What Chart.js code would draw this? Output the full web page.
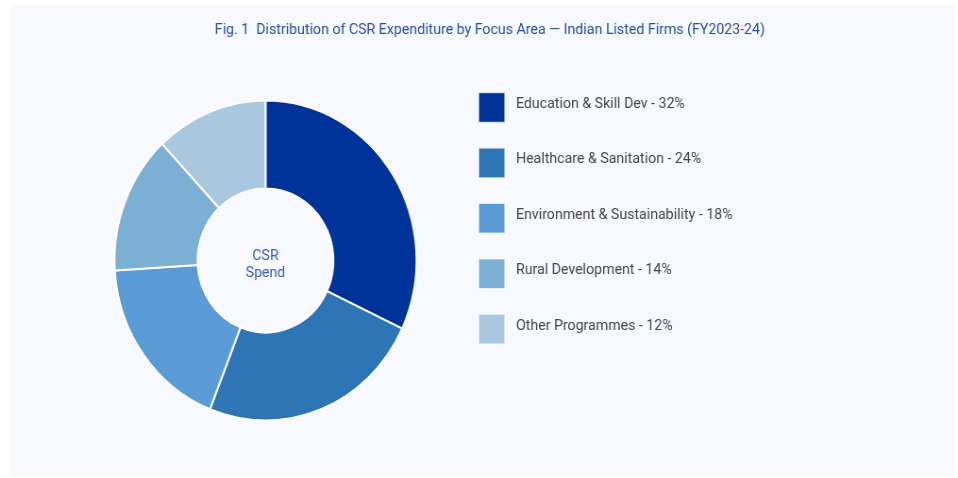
<!DOCTYPE html>
<html>
<head>
<meta charset="utf-8">
<script src="https://cdn.jsdelivr.net/npm/chart.js@4.4.1/dist/chart.umd.min.js"></script>
<style>
  html, body { margin: 0; padding: 0; background: #ffffff; overflow: hidden; }
  #panel { position: absolute; left: 11px; top: 5px; width: 944px; height: 471px; background: #f7f9fe; }
  #c { position: absolute; left: 0; top: 0; transform: scaleX(0.9438); transform-origin: 0 0; }
</style>
</head>
<body>
<div id="panel"></div>
<canvas id="c" width="1015" height="478"></canvas>
<script>
const titleText = 'Fig. 1  Distribution of CSR Expenditure by Focus Area — Indian Listed Firms (FY2023-24)';
const categories = ['Education & Skill Dev', 'Healthcare & Sanitation', 'Environment & Sustainability', 'Rural Development', 'Other Programmes'];
const shares = [32, 24, 18, 14, 12];
const colors = ['#003399', '#2e75b6', '#5b9bd5', '#7bafd4', '#a9c7df'];
const centerLines = ['CSR', 'Spend'];

const FONT = 'Roboto, "Liberation Sans", sans-serif';

const titlePlugin = {
  id: 'titleText',
  afterDraw(chart) {
    const ctx = chart.ctx;
    ctx.save();
    ctx.fillStyle = '#2a4d9f';
    ctx.font = '15px ' + FONT;
    ctx.textAlign = 'center';
    ctx.textBaseline = 'alphabetic';
    ctx.fillText(titleText, 519, 34);
    ctx.restore();
  }
};

const centerText = {
  id: 'centerText',
  afterDatasetsDraw(chart) {
    const meta = chart.getDatasetMeta(0);
    if (!meta.data.length) return;
    const {x, y} = meta.data[0];
    const ctx = chart.ctx;
    ctx.save();
    ctx.fillStyle = '#3a5cae';
    ctx.font = '15px ' + FONT;
    ctx.textAlign = 'center';
    ctx.textBaseline = 'alphabetic';
    ctx.fillText(centerLines[0], x, y - 0.5);
    ctx.fillText(centerLines[1], x, y + 16.5);
    ctx.restore();
  }
};

const sideLegend = {
  id: 'sideLegend',
  afterDraw(chart) {
    const ctx = chart.ctx;
    const x0 = 507, y0 = 92.5, step = 55.4, bw = 28, bh = 30;
    ctx.save();
    chart.data.labels.forEach((lab, i) => {
      const y = y0 + i * step;
      ctx.beginPath();
      ctx.rect(x0, y, bw, bh);
      ctx.fillStyle = colors[i];
      ctx.fill();
      ctx.lineWidth = 1.5;
      ctx.strokeStyle = 'rgba(255,255,255,0.7)';
      ctx.stroke();
      ctx.fillStyle = '#444444';
      ctx.font = '15px ' + FONT;
      ctx.textAlign = 'left';
      ctx.textBaseline = 'alphabetic';
      ctx.fillText(lab + ' - ' + shares[i] + '%', 546.7, y + 15.5);
    });
    ctx.restore();
  }
};

new Chart(document.getElementById('c'), {
  type: 'doughnut',
  data: {
    labels: categories,
    datasets: [{
      data: shares,
      backgroundColor: colors,
      borderColor: '#ffffff',
      borderWidth: 2
    }]
  },
  options: {
    responsive: false,
    animation: false,
    radius: 160,
    cutout: '45%',
    layout: { padding: { left: 116.3, right: 568.7, top: 90, bottom: 47 } },
    plugins: {
      legend: { display: false },
      tooltip: { enabled: false },
      title: { display: false }
    }
  },
  plugins: [centerText, sideLegend, titlePlugin]
});
</script>
</body>
</html>
